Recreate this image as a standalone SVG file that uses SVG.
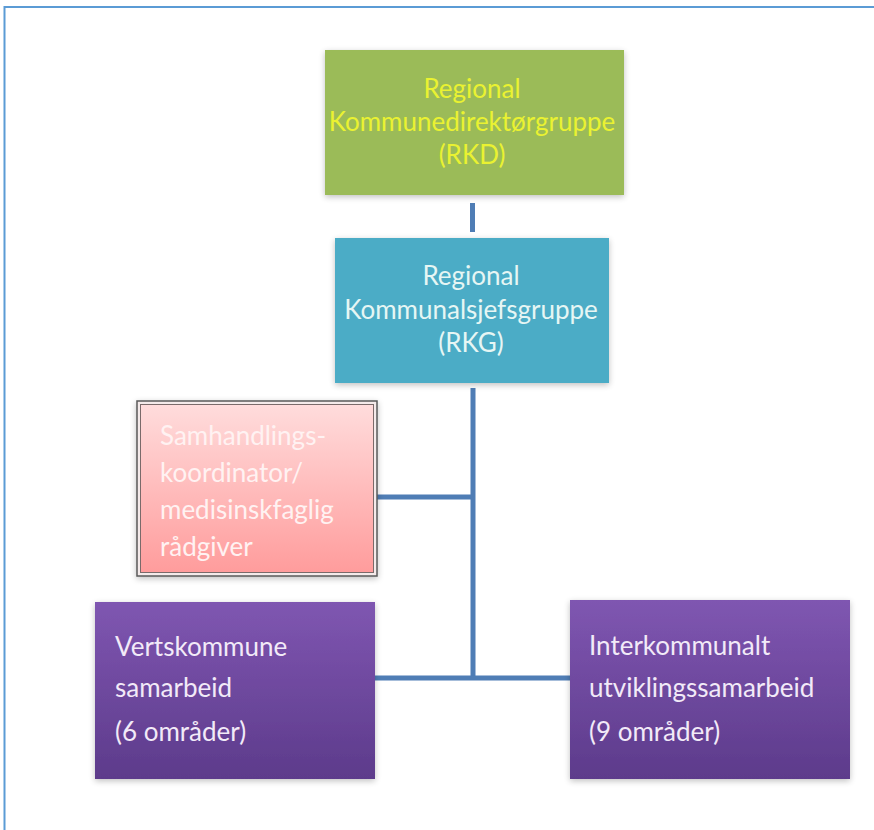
<svg xmlns="http://www.w3.org/2000/svg" width="874" height="830" viewBox="0 0 874 830">
<defs>
<style>
.t{font-family:Lato,"Liberation Sans",sans-serif;font-size:26px;}
.c{text-anchor:middle;}
.conn{stroke:#4F7DB5;stroke-width:5;fill:none;}
</style>
<linearGradient id="gPink" x1="0" y1="0" x2="0" y2="1">
<stop offset="0" stop-color="#FFDCDC"/>
<stop offset="1" stop-color="#FF9C9C"/>
</linearGradient>
<linearGradient id="gPurple" x1="0" y1="0" x2="0" y2="1">
<stop offset="0" stop-color="#7F56B1"/>
<stop offset="1" stop-color="#5D3B8B"/>
</linearGradient>
<filter id="sh" x="-10%" y="-10%" width="120%" height="125%">
<feGaussianBlur in="SourceAlpha" stdDeviation="3"/>
<feOffset dx="0" dy="2" result="b"/>
<feComponentTransfer><feFuncA type="linear" slope="0.25"/></feComponentTransfer>
<feMerge><feMergeNode/><feMergeNode in="SourceGraphic"/></feMerge>
</filter>
</defs>
<rect width="874" height="830" fill="#FFFFFF"/>
<rect x="4.5" y="7" width="920" height="900" fill="none" stroke="#5B9BD5" stroke-width="2"/>

<g id="connectors">
<line class="conn" x1="472.5" y1="203" x2="472.5" y2="232" stroke="#5E8FB0"/>
<line class="conn" x1="473" y1="388" x2="473" y2="680"/>
<line class="conn" x1="377" y1="497" x2="473" y2="497"/>
<line class="conn" x1="375" y1="678" x2="570" y2="678"/>
</g>

<g id="rkd">
<rect x="325" y="50" width="299" height="145" fill="#9BBB59" filter="url(#sh)"/>
<text class="t c" x="472" y="98" fill="#EAF231">Regional</text>
<text class="t c" x="472" y="131" fill="#EAF231">Kommunedirektørgruppe</text>
<text class="t c" x="472" y="164" fill="#EAF231">(RKD)</text>
</g>

<g id="rkg">
<rect x="335" y="238" width="274" height="145" fill="#4BACC6" filter="url(#sh)"/>
<text class="t c" x="471" y="285" fill="#E6F6F4">Regional</text>
<text class="t c" x="471" y="319" fill="#E6F6F4">Kommunalsjefsgruppe</text>
<text class="t c" x="471" y="352" fill="#E6F6F4">(RKG)</text>
</g>

<g id="samhandling">
<rect x="137" y="401" width="240" height="175" fill="#F4EAEA" stroke="#5A5A5A" stroke-width="1.5" filter="url(#sh)"/>
<rect x="140.5" y="404.5" width="233" height="168" fill="url(#gPink)" stroke="#7A6A6A" stroke-width="1"/>
<text class="t" x="160" y="445" fill="#FFF2F2">Samhandlings-</text>
<text class="t" x="160" y="482" fill="#FFF2F2">koordinator/</text>
<text class="t" x="160" y="519" fill="#FFF2F2">medisinskfaglig</text>
<text class="t" x="160" y="556" fill="#FFF2F2">rådgiver</text>
</g>

<g id="vertskommune">
<rect x="95" y="602" width="280" height="177" fill="url(#gPurple)" filter="url(#sh)"/>
<text class="t" x="115" y="656" fill="#F2EAF8">Vertskommune</text>
<text class="t" x="115" y="697" fill="#F2EAF8">samarbeid</text>
<text class="t" x="115" y="741" fill="#F2EAF8">(6 områder)</text>
</g>

<g id="interkommunalt">
<rect x="570" y="600" width="280" height="179" fill="url(#gPurple)" filter="url(#sh)"/>
<text class="t" x="589" y="655" fill="#F2EAF8">Interkommunalt</text>
<text class="t" x="589" y="697" fill="#F2EAF8">utviklingssamarbeid</text>
<text class="t" x="589" y="741" fill="#F2EAF8">(9 områder)</text>
</g>
</svg>
